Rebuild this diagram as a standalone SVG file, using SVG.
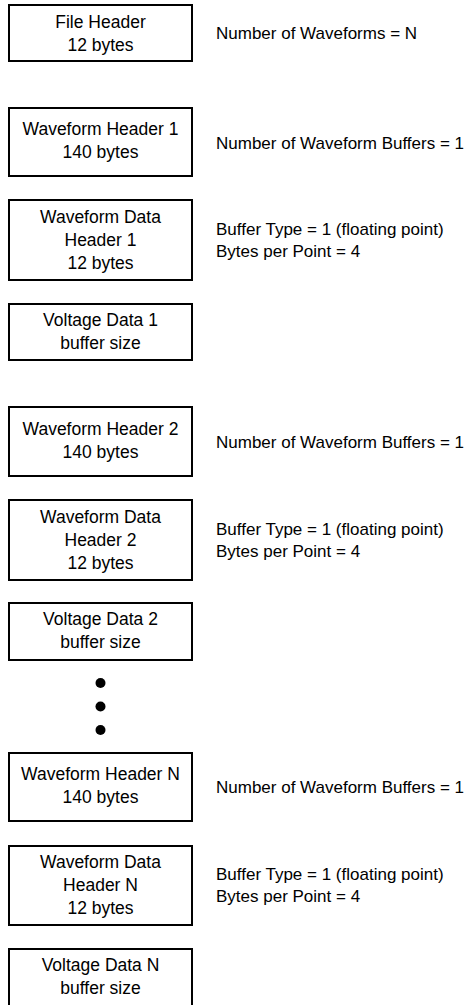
<svg xmlns="http://www.w3.org/2000/svg" width="476" height="1005" viewBox="0 0 476 1005">
<style>
.box{fill:#fff;stroke:#000;stroke-width:2}
.t{font-family:"Liberation Sans",Arial,sans-serif;font-size:17px;fill:#000}
.c{text-anchor:middle;font-size:17.5px}
</style>
<rect width="476" height="1005" fill="#fff"/>
<g id="file-header">
<rect class="box" x="9" y="5" width="183" height="56"/>
<text class="t c" x="100.5" y="27.5">File Header</text>
<text class="t c" x="100.5" y="50.5">12 bytes</text>
</g>
<g id="note-waveforms"><text class="t" x="216" y="39">Number of Waveforms = N</text></g>

<g id="wh1">
<rect class="box" x="9" y="108" width="183" height="68"/>
<text class="t c" x="100.5" y="135">Waveform Header 1</text>
<text class="t c" x="100.5" y="158">140 bytes</text>
</g>
<g id="note-wh1"><text class="t" x="216" y="149">Number of Waveform Buffers = 1</text></g>

<g id="wdh1">
<rect class="box" x="9" y="200" width="183" height="80"/>
<text class="t c" x="100.5" y="223">Waveform Data</text>
<text class="t c" x="100.5" y="246">Header 1</text>
<text class="t c" x="100.5" y="269">12 bytes</text>
</g>
<g id="note-wdh1">
<text class="t" x="216" y="235">Buffer Type = 1 (floating point)</text>
<text class="t" x="216" y="257">Bytes per Point = 4</text>
</g>

<g id="vd1">
<rect class="box" x="9" y="304" width="183" height="56"/>
<text class="t c" x="100.5" y="326">Voltage Data 1</text>
<text class="t c" x="100.5" y="349">buffer size</text>
</g>

<g id="wh2">
<rect class="box" x="9" y="407" width="183" height="69"/>
<text class="t c" x="100.5" y="435">Waveform Header 2</text>
<text class="t c" x="100.5" y="458">140 bytes</text>
</g>
<g id="note-wh2"><text class="t" x="216" y="448">Number of Waveform Buffers = 1</text></g>

<g id="wdh2">
<rect class="box" x="9" y="500" width="183" height="80"/>
<text class="t c" x="100.5" y="523">Waveform Data</text>
<text class="t c" x="100.5" y="546">Header 2</text>
<text class="t c" x="100.5" y="569">12 bytes</text>
</g>
<g id="note-wdh2">
<text class="t" x="216" y="535">Buffer Type = 1 (floating point)</text>
<text class="t" x="216" y="557">Bytes per Point = 4</text>
</g>

<g id="vd2">
<rect class="box" x="9" y="603" width="183" height="57"/>
<text class="t c" x="100.5" y="625">Voltage Data 2</text>
<text class="t c" x="100.5" y="648">buffer size</text>
</g>

<g id="ellipsis">
<circle cx="100.5" cy="683" r="5" fill="#000"/>
<circle cx="100.5" cy="706.5" r="5" fill="#000"/>
<circle cx="100.5" cy="730" r="5" fill="#000"/>
</g>

<g id="whN">
<rect class="box" x="9" y="753" width="183" height="68"/>
<text class="t c" x="100.5" y="780">Waveform Header N</text>
<text class="t c" x="100.5" y="803">140 bytes</text>
</g>
<g id="note-whN"><text class="t" x="216" y="793">Number of Waveform Buffers = 1</text></g>

<g id="wdhN">
<rect class="box" x="9" y="846" width="183" height="79"/>
<text class="t c" x="100.5" y="868">Waveform Data</text>
<text class="t c" x="100.5" y="891">Header N</text>
<text class="t c" x="100.5" y="914">12 bytes</text>
</g>
<g id="note-wdhN">
<text class="t" x="216" y="880">Buffer Type = 1 (floating point)</text>
<text class="t" x="216" y="902">Bytes per Point = 4</text>
</g>

<g id="vdN">
<rect class="box" x="9" y="949" width="183" height="58"/>
<text class="t c" x="100.5" y="971">Voltage Data N</text>
<text class="t c" x="100.5" y="994">buffer size</text>
</g>

<g id="connectors"></g>
</svg>
